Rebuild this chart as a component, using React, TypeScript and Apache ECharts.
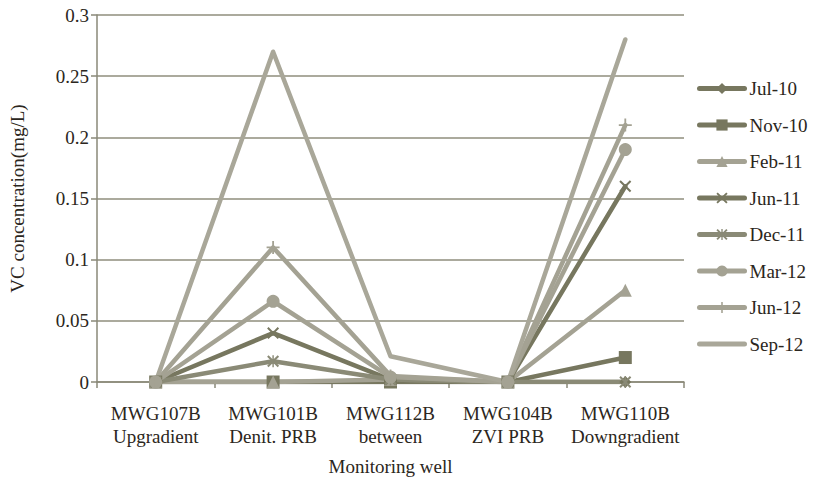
import React, { useEffect, useRef } from "react";
import * as echarts from "echarts";

const categories = [
  "MWG107B\nUpgradient",
  "MWG101B\nDenit. PRB",
  "MWG112B\nbetween",
  "MWG104B\nZVI PRB",
  "MWG110B\nDowngradient",
];

const seriesNames = ["Jul-10", "Nov-10", "Feb-11", "Jun-11", "Dec-11", "Mar-12", "Jun-12", "Sep-12"];

const jul10 = [0, 0, 0, 0, 0];
const nov10 = [0, 0, 0, 0, 0.02];
const feb11 = [0, 0, 0.002, 0, 0.075];
const jun11 = [0, 0.04, 0.002, 0, 0.16];
const dec11 = [0, 0.017, 0.002, 0, 0];
const mar12 = [0, 0.066, 0.004, 0, 0.19];
const jun12 = [0, 0.11, 0.005, 0, 0.21];
const sep12 = [0, 0.27, 0.021, 0, 0.28];

const yTicks = [0, 0.05, 0.1, 0.15, 0.2, 0.25, 0.3];

const X_PATH = "path://M0,1.2L1.2,0L5,3.8L8.8,0L10,1.2L6.2,5L10,8.8L8.8,10L5,6.2L1.2,10L0,8.8L3.8,5Z";
const PLUS_PATH = "path://M4.3,0H5.7V4.3H10V5.7H5.7V10H4.3V5.7H0V4.3H4.3Z";
const STAR_PATH =
  "path://M0,1.2L1.2,0L5,3.8L8.8,0L10,1.2L6.2,5L10,8.8L8.8,10L5,6.2L1.2,10L0,8.8L3.8,5Z M4.4,0H5.6V10H4.4Z";
const FLAT_PATH = "path://M0,0H0.01V0.01H0Z M0,4H10V6H0Z M9.99,9.99H10V10H9.99Z";

const DARK = "#77775f";
const MED = "#8a8a76";
const LIGHT = "#a4a293";
const LIGHT2 = "#a9a799";

const FONT = "Liberation Serif";
const TEXT = "#2b2620";
const AXIS = "#8a8978";

export default function App() {
  const ref = useRef<HTMLDivElement>(null);
  useEffect(() => {
    document.body.style.margin = "0";
    if (!ref.current) return;
    const chart = echarts.init(ref.current, undefined, { renderer: "svg" });
    const defs = [
      { name: seriesNames[0], data: jul10, color: DARK, symbol: "diamond", size: 12, show: true },
      { name: seriesNames[1], data: nov10, color: DARK, symbol: "rect", size: 13, show: true },
      { name: seriesNames[2], data: feb11, color: LIGHT, symbol: "triangle", size: 13, show: true },
      { name: seriesNames[3], data: jun11, color: DARK, symbol: X_PATH, size: 12, show: true },
      { name: seriesNames[4], data: dec11, color: MED, symbol: STAR_PATH, size: 12, show: true },
      { name: seriesNames[5], data: mar12, color: LIGHT, symbol: "circle", size: 13, show: true },
      { name: seriesNames[6], data: jun12, color: LIGHT, symbol: PLUS_PATH, size: 13, show: true },
      { name: seriesNames[7], data: sep12, color: LIGHT2, symbol: FLAT_PATH, size: 10, show: false },
    ];
    chart.setOption({
      animation: false,
      grid: { left: 88, right: 137, top: 15, bottom: 99, containLabel: false },
      legend: {
        orient: "vertical",
        left: 692,
        top: 74,
        itemWidth: 45,
        itemHeight: 14,
        itemGap: 17.5,
        lineStyle: { width: 5, cap: "round" },
        textStyle: { fontFamily: FONT, fontSize: 19, color: TEXT },
        data: seriesNames,
      },
      xAxis: {
        type: "category",
        data: categories,
        boundaryGap: true,
        name: "Monitoring well",
        nameLocation: "middle",
        nameGap: 75,
        nameTextStyle: { fontFamily: FONT, fontSize: 19, color: TEXT },
        axisLine: { lineStyle: { color: AXIS, width: 1.5 } },
        axisTick: { show: true, length: 6, lineStyle: { color: AXIS, width: 1.5 } },
        axisLabel: { fontFamily: FONT, fontSize: 19, color: TEXT, lineHeight: 23, margin: 20, interval: 0 },
        splitLine: { show: false },
      },
      yAxis: {
        type: "value",
        min: 0,
        max: 0.3,
        interval: 0.05,
        name: "VC concentration(mg/L)",
        nameLocation: "middle",
        nameGap: 70,
        nameTextStyle: { fontFamily: FONT, fontSize: 19, color: TEXT },
        axisLine: { show: true, lineStyle: { color: AXIS, width: 1.5 } },
        axisTick: { show: true, length: 6, lineStyle: { color: AXIS, width: 1.5 } },
        axisLabel: {
          fontFamily: FONT,
          fontSize: 19,
          color: TEXT,
          margin: 8,
          formatter: (v: number) => {
            const t = yTicks.find((x) => Math.abs(x - v) < 1e-9);
            return t === undefined ? "" : String(Number(t.toFixed(2)));
          },
        },
        splitLine: { show: true, lineStyle: { color: "#8f8e7c", width: 1.5 } },
      },
      series: defs.map((d) => ({
        name: d.name,
        type: "line",
        data: d.data,
        symbol: d.symbol,
        symbolSize: d.size,
        showSymbol: d.show,
        lineStyle: { color: d.color, width: 4.5, cap: "round", join: "round" },
        itemStyle: { color: d.color, borderColor: d.color, borderWidth: 0 },
      })),
    });
    return () => chart.dispose();
  }, []);
  return <div ref={ref} style={{ width: 821, height: 481 }} />;
}
